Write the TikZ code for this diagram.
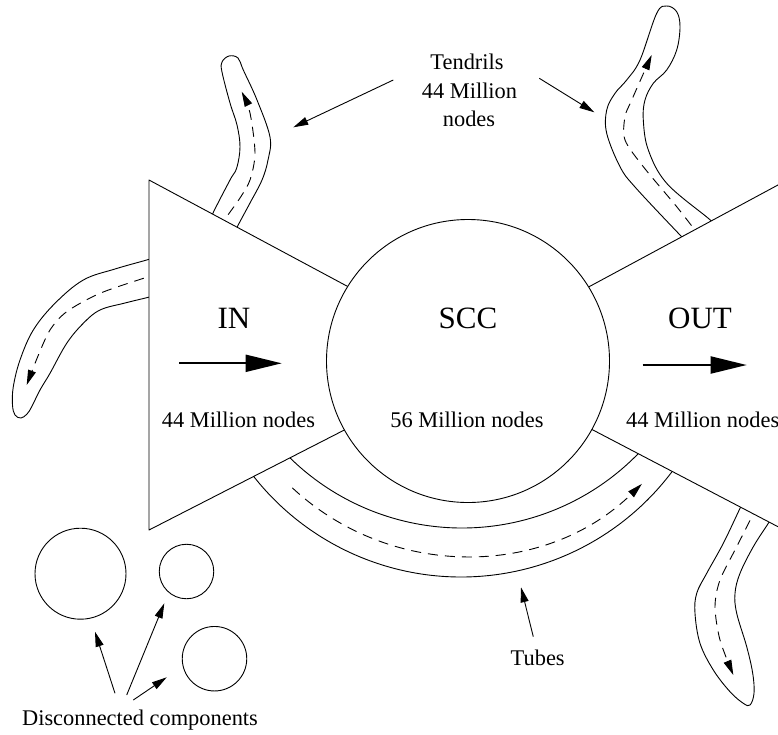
\documentclass[tikz,border=0pt]{standalone}
\usepackage{fontspec}
\setmainfont{Liberation Serif}
\usetikzlibrary{arrows.meta}
\begin{document}
\begin{tikzpicture}[x=1pt,y=-1pt,line width=0.9pt,line join=round,
  smalltip/.style={-{Triangle[length=15pt,width=8pt]}},
  bigtip/.style={line width=2pt,-{Triangle[length=36pt,width=17pt]}},
  flow/.style={dash pattern=on 10pt off 7pt},
  bigtxt/.style={font=\fontsize{31}{31}\selectfont,inner sep=0pt,anchor=base},
  smtxt/.style={font=\fontsize{22.4}{28}\selectfont,inner sep=0pt,anchor=base},
  blob/.style={circle,draw,inner sep=0pt}]
\clip (0,0) rectangle (778,734);
% ---------- tendrils ----------
\draw plot[smooth,tension=0.6] coordinates {(206,230) (213,213) (230,180) (236.7,168) (240,147) (237,125) (230,103) (222,72) (222,62) (229,56) (238,58) (243.3,70) (257,100) (270,137) (268,160) (262,180) (250,203) (237.3,226.7) (231,240)};
\draw[flow,smalltip] plot[smooth] coordinates {(221,230) (226,218) (240,198) (250,180) (255,153) (250,113) (241.7,91.7)};
\draw plot[smooth,tension=0.6] coordinates {(160,256) (146.7,260) (115,269) (83.3,280) (55,303.3) (33.3,330) (20,360) (13.3,386.7) (12.5,405) (15,415) (21,418) (27,414) (31.7,406.7) (40,390) (50,373.3) (66.7,343.3) (83.3,323.3) (100,310) (125,303) (148.3,297.3) (160,294)};
\draw[flow,smalltip] plot[smooth] coordinates {(160,273) (148.3,276.7) (100,293.3) (66.7,311.7) (50,330) (38,356) (26.7,385)};
\draw plot[smooth,tension=0.6] coordinates {(690,245) (680,235) (635,187) (620,166.7) (606.7,133.3) (606.7,110) (615,93.3) (626.7,80) (640,60) (656.7,13.3) (666.7,6) (676.7,11.7) (680,26.7) (676.7,50) (666.7,70) (653.3,83.3) (645,100) (643.3,120) (648.3,150) (666.7,183.3) (708.3,218.3) (718,227)};
\draw[flow,smalltip] plot[smooth] coordinates {(703,238) (695,230) (676.7,206.7) (643.3,166.7) (625,140) (625,116.7) (631.7,100) (651.7,55)};
\draw plot[smooth,tension=0.6] coordinates {(745,498) (740,508.3) (723.3,543.3) (706.7,573.3) (696.7,593.3) (695,613.3) (700,643.3) (713.3,670) (730,691.7) (743.3,703.3) (750,705) (754,693.3) (752.7,673.3) (746.7,646.7) (736.7,613.3) (735,593.3) (740,573.3) (753.3,546.7) (768.3,523.3) (774,514)};
\draw[flow,smalltip] plot[smooth] coordinates {(757,505) (752.7,515) (736.7,546.7) (720,580) (715,606.7) (720,640) (733.3,675)};
% ---------- tube ----------
\draw (462,282) ++(137:246) arc[start angle=137,end angle=43,radius=246];
\draw (461,313) ++(144:264) arc[start angle=144,end angle=36,radius=264];
\draw[flow,smalltip] (465,302) ++(132.9:253.7) arc[start angle=132.9,end angle=45.8,radius=253.7];
% ---------- bow tie ----------
\draw[fill=white] (149,180) -- (483,359) -- (149,530) -- cycle;
\draw[fill=white] (790,178.5) -- (456,358.4) -- (790,533) -- cycle;
\node[blob,fill=white,minimum size=283pt] (scc) at (468,361) {};
% ---------- labels ----------
\node[bigtxt] (inlbl) at (234,328) {IN};
\node[bigtxt] (scclbl) at (468,328) {SCC};
\node[bigtxt] (outlbl) at (700,328) {OUT};
\node[smtxt] (incnt) at (238.5,427) {44 Million nodes};
\node[smtxt] (scccnt) at (467,427) {56 Million nodes};
\node[smtxt,anchor=base west] (outcnt) at (625.7,427) {44 Million nodes};
\node[smtxt] (tend1) at (467,69.3) {Tendrils};
\node[smtxt] (tend2) at (469.5,98.5) {44 Million};
\node[smtxt] (tend3) at (469,126) {nodes};
\node[smtxt] (tubelbl) at (537.7,665) {Tubes};
\node[smtxt] (disclbl) at (140,725) {Disconnected components};
% ---------- disconnected components ----------
\node[blob,minimum size=91pt] (dc1) at (80.5,573.7) {};
\node[blob,minimum size=54.5pt] (dc2) at (186.5,571.5) {};
\node[blob,minimum size=64.5pt] (dc3) at (214.5,658.7) {};
% ---------- arrow end points ----------
\coordinate (inA) at (179,363.3);  \coordinate (inB) at (281.7,363.3);
\coordinate (outA) at (642.7,365); \coordinate (outB) at (746.7,365);
\coordinate (tlA) at (393.3,80);   \coordinate (tlB) at (293.3,127.3);
\coordinate (trA) at (539.3,78.3); \coordinate (trB) at (594.3,112.3);
\coordinate (tuA) at (533.3,636.7); \coordinate (tuB) at (521,587.3);
\coordinate (d1A) at (115,693.3); \coordinate (d1B) at (95,631.7);
\coordinate (d2A) at (126.7,695); \coordinate (d2B) at (164.3,603.3);
\coordinate (d3A) at (133.3,700); \coordinate (d3B) at (166.7,677.3);
% ---------- arrows ----------
\draw[bigtip] (inA) -- (inB);
\draw[bigtip] (outA) -- (outB);
\draw[smalltip] (tlA) -- (tlB);
\draw[smalltip] (trA) -- (trB);
\draw[smalltip] (tuA) -- (tuB);
\draw[smalltip] (d1A) -- (d1B);
\draw[smalltip] (d2A) -- (d2B);
\draw[smalltip] (d3A) -- (d3B);
\end{tikzpicture}
\end{document}
